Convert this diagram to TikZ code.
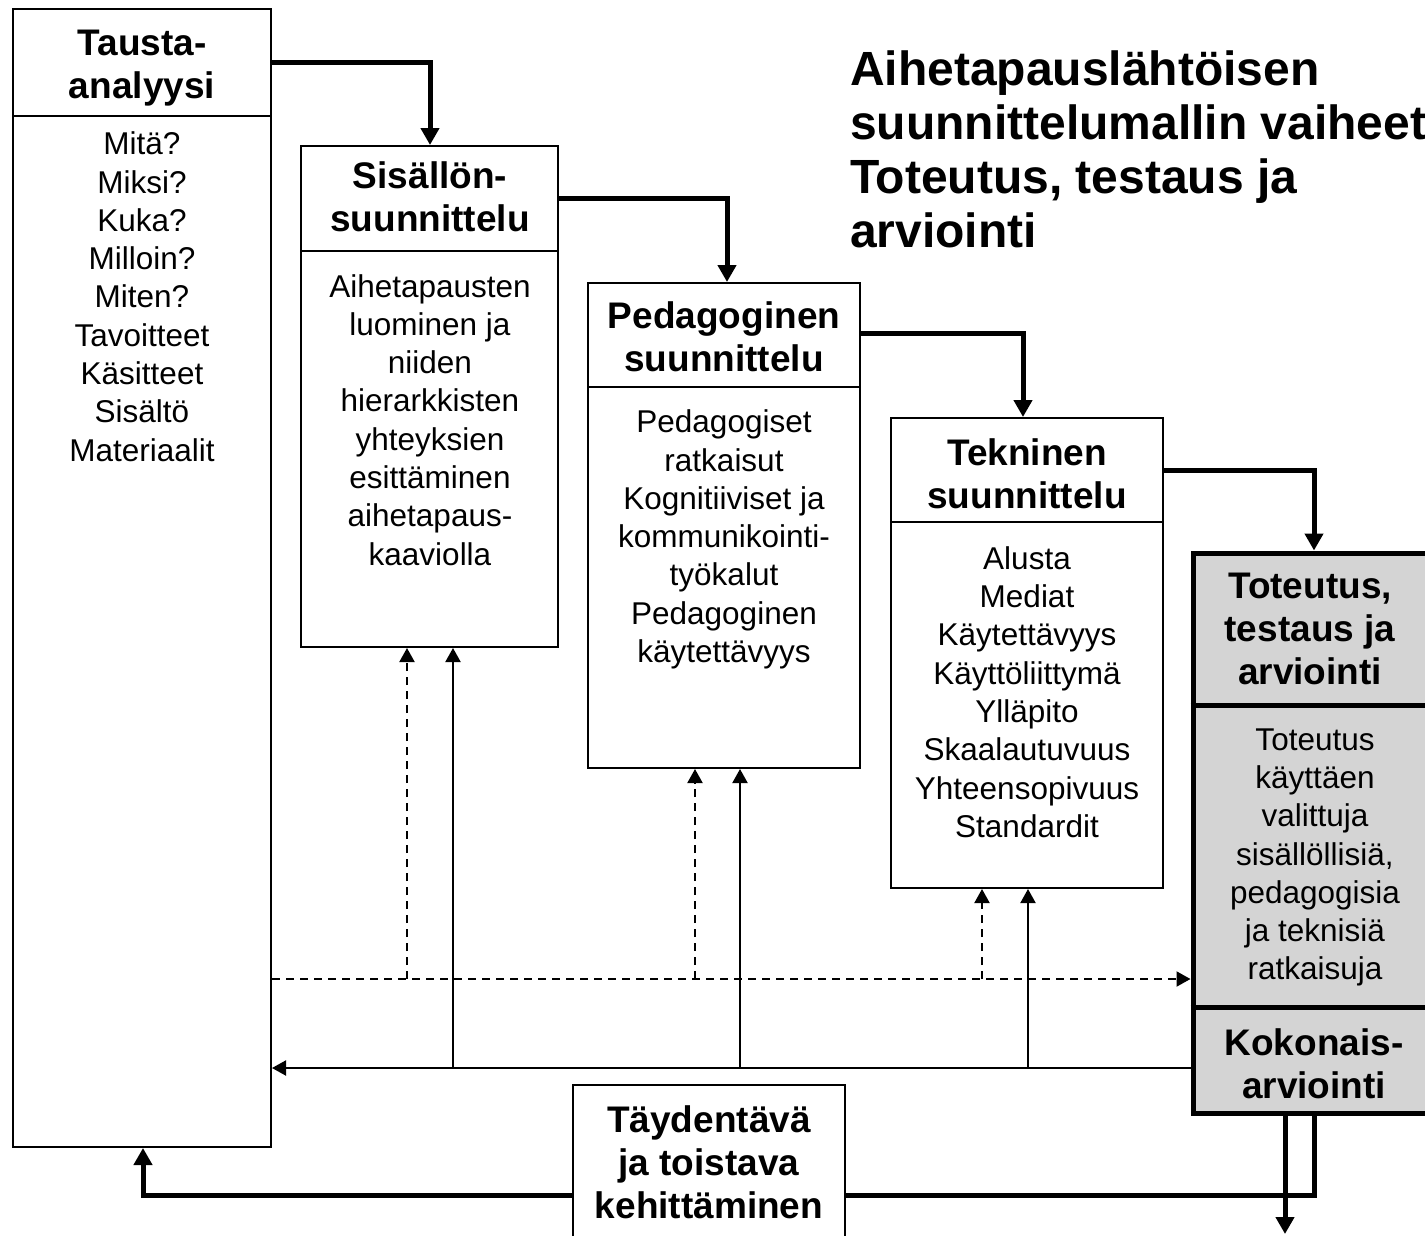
\documentclass[tikz,border=0pt]{standalone}
\usepackage{fontspec}
\setmainfont{Liberation Sans}
\usetikzlibrary{arrows.meta}
\definecolor{totgray}{RGB}{212,212,212}
\begin{document}
\begin{tikzpicture}[x=1pt,y=-1pt,
  box/.style={draw, line width=2pt, inner sep=0pt, fill=white},
  totbox/.style={draw, line width=5pt, inner sep=0pt, fill=totgray},
  hdr/.style={font=\bfseries\fontsize{37}{43}\selectfont, align=center, anchor=north, inner sep=0pt},
  body/.style={font=\fontsize{31.5}{38.3}\selectfont, align=center, anchor=north, inner sep=0pt},
  ttl/.style={font=\bfseries\fontsize{48}{54}\selectfont, align=left, anchor=north west, inner sep=0pt},
  thk/.style={line width=5pt, -{Triangle[length=17pt,width=18pt]}},
  thn/.style={line width=2pt, -{Triangle[length=14pt,width=15pt]}},
  dsh/.style={thn, dash pattern=on 8pt off 6pt},
  divider/.style={line width=2pt},
  totdivider/.style={line width=5pt}]
\useasboundingbox (0,0) rectangle (1425,1235);
\clip (0,0) rectangle (1425,1235);

% boxes
\node[box, minimum width=258pt, minimum height=1138pt] (tausta) at (142,578) {};
\node[box, minimum width=257pt, minimum height=501pt] (sis) at (429.5,396.5) {};
\node[box, minimum width=272pt, minimum height=485pt] (ped) at (724,525.5) {};
\node[box, minimum width=272pt, minimum height=470pt] (tek) at (1027,653) {};
\node[totbox, minimum width=246pt, minimum height=560pt] (tot) at (1316,833) {};
\node[box, minimum width=272pt, minimum height=160pt] (tay) at (709,1165) {};

% dividers
\draw[divider] (tausta.west |- 0,115.5) -- (tausta.east |- 0,115.5);
\draw[divider] (sis.west |- 0,251) -- (sis.east |- 0,251);
\draw[divider] (ped.west |- 0,387) -- (ped.east |- 0,387);
\draw[divider] (tek.west |- 0,522) -- (tek.east |- 0,522);
\draw[totdivider] (tot.west |- 0,705) -- (tot.east |- 0,705);
\draw[totdivider] (tot.west |- 0,1007) -- (tot.east |- 0,1007);

% texts
\node[hdr] (taustah) at (142,30) {Tausta-\\analyysi};
\node[body] (taustab) at (142,131.7) {Mitä?\\Miksi?\\Kuka?\\Milloin?\\Miten?\\Tavoitteet\\Käsitteet\\Sisältö\\Materiaalit};
\node[hdr] (sish) at (430,161.5) {Sisällön-\\suunnittelu};
\node[body] (sisb) at (430,274) {Aihetapausten\\luominen ja\\niiden\\hierarkkisten\\yhteyksien\\esittäminen\\aihetapaus-\\kaaviolla};
\node[hdr] (pedh) at (724,301) {Pedagoginen\\suunnittelu};
\node[body] (pedb) at (724,409.7) {Pedagogiset\\ratkaisut\\Kognitiiviset ja\\kommunikointi-\\työkalut\\Pedagoginen\\käytettävyys};
\node[hdr] (tekh) at (1027,438) {Tekninen\\suunnittelu};
\node[body] (tekb) at (1027,546.3) {Alusta\\Mediat\\Käytettävyys\\Käyttöliittymä\\Ylläpito\\Skaalautuvuus\\Yhteensopivuus\\Standardit};
\node[hdr] (toth) at (1310,573.3) {Toteutus,\\testaus ja\\arviointi};
\node[body] (totb) at (1315,728.3) {Toteutus\\käyttäen\\valittuja\\sisällöllisiä,\\pedagogisia\\ja teknisiä\\ratkaisuja};
\node[hdr] (kokh) at (1314,1028.3) {Kokonais-\\arviointi};
\node[hdr] (tayh) at (709,1105) {Täydentävä\\ja toistava\\kehittäminen};
\node[ttl] (title) at (850,51) {Aihetapauslähtöisen\\suunnittelumallin vaiheet\\Toteutus, testaus ja\\arviointi};

% thick flow connectors
\draw[thk] (tausta.east |- 0,62) -| ([xshift=0.5pt]sis.north);
\draw[thk] (sis.east |- 0,198) -| ([xshift=3pt]ped.north);
\draw[thk] (ped.east |- 0,333) -| ([xshift=-4pt]tek.north);
\draw[thk] (tek.east |- 0,470) -| ([xshift=-2pt]tot.north);

% bottom loop
\draw[line width=5pt] ([xshift=-2pt]tot.south) |- (tay.east |- 0,1195);
\draw[thk] (tay.west |- 0,1195) -| ([xshift=1pt]tausta.south);
\coordinate (exit) at (1285,1234);
\draw[thk] (tot.south -| exit) -- (exit);

% branch points
\coordinate (fb1) at (453,1068);
\coordinate (fb2) at (740,1068);
\coordinate (fb3) at (1028,1068);
\coordinate (ff1) at (407,979);
\coordinate (ff2) at (695,979);
\coordinate (ff3) at (982,979);

% solid feedback
\draw[thn] (tot.west |- fb1) -- (tausta.east |- fb1);
\draw[thn] (fb1) -- (sis.south -| fb1);
\draw[thn] (fb2) -- (ped.south -| fb2);
\draw[thn] (fb3) -- (tek.south -| fb3);

% dashed feed-forward
\draw[dsh] (tausta.east |- ff1) -- (tot.west |- ff1);
\draw[dsh] (ff1) -- (sis.south -| ff1);
\draw[dsh] (ff2) -- (ped.south -| ff2);
\draw[dsh] (ff3) -- (tek.south -| ff3);
\end{tikzpicture}
\end{document}
